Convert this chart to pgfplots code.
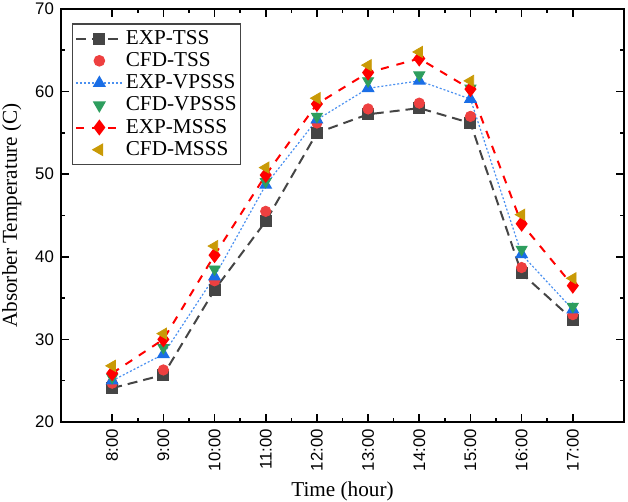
\documentclass[border=0pt]{standalone}
\usepackage{fontspec}
\setmainfont{Liberation Serif}
\setsansfont{Liberation Sans}
\usepackage{pgfplots}
\pgfplotsset{compat=1.18}
\definecolor{cgray}{HTML}{454545}
\definecolor{ccirc}{HTML}{EE4040}
\definecolor{cblue}{HTML}{1A6EE6}
\definecolor{cblueline}{HTML}{4A90F0}
\definecolor{cgreen}{HTML}{2E9E5E}
\definecolor{cred}{HTML}{FF0000}
\definecolor{cgold}{HTML}{C99A06}
\begin{document}
\begin{tikzpicture}
\begin{axis}[
  scale only axis, width=281.5pt, height=206.5pt,
  xmin=7, xmax=18, ymin=20, ymax=70,
  xtick={8,...,17},
  xticklabels={8:00,9:00,10:00,11:00,12:00,13:00,14:00,15:00,16:00,17:00},
  minor x tick num=1,
  ytick={20,30,...,70}, minor y tick num=1,
  /pgf/number format/assume math mode=true,
  tick label style={font=\fontsize{8.4}{10}\sffamily},
  x tick label style={rotate=90, anchor=east},
  xlabel={Time (hour)}, ylabel={Absorber Temperature (C)},
  label style={font=\fontsize{10.6}{12}\selectfont},
  xlabel style={yshift=1.5pt},
  major tick length=4pt, minor tick length=2pt,
  axis line style={line width=1pt},
  every tick/.style={line width=0.8pt, black},
  legend style={at={(0.02,0.965)}, anchor=north west, draw=cgray, line width=0.6pt,
    font=\fontsize{10.6}{12}\selectfont, inner xsep=1pt, inner ysep=2pt,
    nodes={inner sep=1pt}, row sep=0.6pt},
  legend cell align=left,
  legend image code/.code={\draw[mark repeat=2,mark phase=2] plot coordinates {(0pt,0pt) (11.75pt,0pt) (23.5pt,0pt)};},
]
\addplot[cgray, line width=1pt, dash pattern=on 5pt off 3pt, mark=square*, mark size=2.5pt, mark options={solid, fill=cgray}]
  coordinates {(8,24.1) (9,25.7) (10,36.0) (11,44.3) (12,55.0) (13,57.25) (14,58.0) (15,56.2) (16,38.0) (17,32.4)};
\addlegendentry{EXP-TSS}
\addplot[only marks, ccirc, mark=*, mark size=2.6pt, mark options={fill=ccirc}]
  coordinates {(8,24.7) (9,26.3) (10,37.1) (11,45.5) (12,56.2) (13,57.9) (14,58.6) (15,57.0) (16,38.7) (17,33.0)};
\addlegendentry{CFD-TSS}
\addplot[cblueline, line width=0.6pt, dash pattern=on 1pt off 1pt, mark=triangle*, mark size=3.2pt, mark options={solid, cblue, fill=cblue}]
  coordinates {(8,25.0) (9,28.2) (10,37.6) (11,48.7) (12,56.6) (13,60.4) (14,61.3) (15,59.1) (16,40.3) (17,33.6)};
\addlegendentry{EXP-VPSSS}
\addplot[only marks, cgreen, mark=triangle*, mark size=3.2pt, mark options={rotate=180, fill=cgreen}]
  coordinates {(8,25.4) (9,29.0) (10,38.5) (11,49.1) (12,57.0) (13,61.3) (14,62.0) (15,60.4) (16,40.9) (17,34.0)};
\addlegendentry{CFD-VPSSS}
\addplot[cred, line width=1pt, dash pattern=on 4pt off 4pt, mark=diamond*, mark size=3.2pt, mark options={solid, fill=cred}]
  coordinates {(8,25.9) (9,30.0) (10,40.2) (11,49.9) (12,58.5) (13,62.3) (14,64.0) (15,60.3) (16,44.0) (17,36.5)};
\addlegendentry{EXP-MSSS}
\addplot[only marks, cgold, mark=triangle*, mark size=3.2pt, mark options={rotate=90, fill=cgold}]
  coordinates {(8,26.8) (9,30.7) (10,41.3) (11,50.8) (12,59.2) (13,63.2) (14,64.8) (15,61.3) (16,45.1) (17,37.4)};
\addlegendentry{CFD-MSSS}
\end{axis}
\pgfresetboundingbox
\path ([xshift=-30.5pt,yshift=-40pt]current axis.south west) rectangle ([xshift=2pt,yshift=4.5pt]current axis.north east);
\end{tikzpicture}
\end{document}
